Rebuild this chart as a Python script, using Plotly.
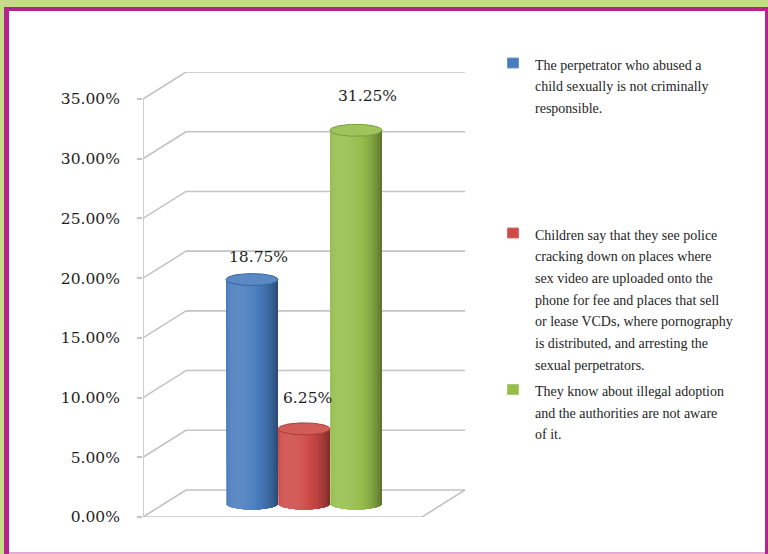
import numpy as np
import plotly.graph_objects as go

# ---------------- data ----------------
categories = [
    "The perpetrator who abused a child sexually is not criminally responsible.",
    "Children say that they see police cracking down on places where sex video are uploaded onto the phone for fee and places that sell or lease VCDs, where pornography is distributed, and arresting the sexual perpetrators.",
    "They know about illegal adoption and the authorities are not aware of it.",
]
values = [18.75, 6.25, 31.25]
value_labels = ["18.75%", "6.25%", "31.25%"]
tick_vals = [0, 5, 10, 15, 20, 25, 30, 35]
tick_text = ["0.00%", "5.00%", "10.00%", "15.00%", "20.00%", "25.00%", "30.00%", "35.00%"]
legend_lines = [
    ["The perpetrator who abused a", "child sexually is not criminally", "responsible."],
    ["Children say that they see police", "cracking down on places where",
     "sex video are uploaded onto the", "phone for fee and places that sell",
     "or lease VCDs, where pornography", "is distributed, and arresting the",
     "sexual perpetrators."],
    ["They know about illegal adoption", "and the authorities are not aware", "of it."],
]

# ---------------- style / geometry ----------------
W, H = 768, 554
ML, MR, MT, MB = 143, 303, 72, 37
PW, PH = W - ML - MR, H - MT - MB
PX_PER_CAT = 52.0
PX_PER_PCT = 11.943
X_FIRST_PX = 252.0
XMIN = 1 - (X_FIRST_PX - ML) / PX_PER_CAT
XMAX = XMIN + PW / PX_PER_CAT
YMAX = PH / PX_PER_PCT
DEPTH_X = 43 / PX_PER_CAT
DEPTH_Y = 27 / PX_PER_PCT
XFRONT_R = XMAX - DEPTH_X
R_CYL = 0.5
H_ELL = 6 / PX_PER_PCT
BASE = DEPTH_Y / 2
colors = [(72, 124, 190), (206, 74, 70), (150, 190, 76)]
LABEL_SHIFT = [(6, 23), (3, 31), (11, 34)]
GRID = "#c3c3c3"
TEXT_FONT = dict(family="DejaVu Serif", size=15.5, color="#1e1e1e")
LEG_FONT = dict(family="Liberation Serif", size=14, color="#1e1e1e")
LEG_FIRST_Y = [65, 235, 391.5]
LEG_STEP = 21.7
LEG_TEXT_X = 533
LEG_MARK_X = 513


def px2paper_x(px):
    return (px - ML) / PW


def px2paper_y(py):
    return (H - MB - py) / PH


def shade(rgb, k):
    r = np.array(rgb, float)
    if k <= 1:
        c = r * k
    else:
        c = r + (255 - r) * (k - 1)
    c = np.clip(c, 0, 255).astype(int)
    return "rgb(%d,%d,%d)" % tuple(c)


fig = go.Figure()

# cylinders: overlapping strips painted left to right
N = 40
th = np.linspace(-np.pi / 2, np.pi / 2, N + 1)
for i, v in enumerate(values):
    c = i + 1
    top = BASE + v
    for k in range(N):
        tt = th[k:]
        xs_arc = c + R_CYL * np.sin(tt)
        ys_arc = BASE - H_ELL * np.cos(tt)
        xs = np.concatenate([[xs_arc[0]], xs_arc, [xs_arc[-1]], [xs_arc[0]]])
        ys = np.concatenate([[top], ys_arc, [top], [top]])
        tm = 0.5 * (th[k] + th[k + 1])
        inten = 0.74 + 0.38 * np.cos(tm + 0.6)
        col = shade(colors[i], inten)
        fig.add_trace(go.Scatter(
            x=xs, y=ys, mode="lines", fill="toself", fillcolor=col,
            line=dict(width=0), hoverinfo="skip", showlegend=False))
    phi = np.linspace(0, 2 * np.pi, 80)
    fig.add_trace(go.Scatter(
        x=c + R_CYL * np.cos(phi), y=top + H_ELL * np.sin(phi),
        mode="lines", fill="toself", fillcolor=shade(colors[i], 1.1),
        line=dict(color=shade(colors[i], 0.82), width=1),
        hoverinfo="skip", showlegend=False))

shapes = []
# frame
shapes.append(dict(type="rect", xref="paper", yref="paper", layer="below",
                   x0=px2paper_x(4), x1=px2paper_x(W + 5), y0=px2paper_y(7), y1=px2paper_y(H + 5),
                   fillcolor="#b52390", line=dict(width=0)))
shapes.append(dict(type="rect", xref="paper", yref="paper", layer="below",
                   x0=px2paper_x(9), x1=px2paper_x(W - 3), y0=px2paper_y(11), y1=px2paper_y(H - 1.5),
                   fillcolor="white", line=dict(width=0)))
shapes.append(dict(type="rect", xref="paper", yref="paper", layer="below",
                   x0=px2paper_x(9), x1=px2paper_x(W - 3), y0=px2paper_y(H - 1.5), y1=px2paper_y(H + 5),
                   fillcolor="#e9b6da", line=dict(width=0)))
gl = dict(color=GRID, width=1.6)
for t in tick_vals:
    shapes.append(dict(type="line", xref="x", yref="y", layer="below",
                       x0=XMIN + DEPTH_X, x1=XMAX, y0=t + DEPTH_Y, y1=t + DEPTH_Y, line=gl))
    shapes.append(dict(type="line", xref="x", yref="y", layer="below",
                       x0=XMIN, x1=XMIN + DEPTH_X, y0=t, y1=t + DEPTH_Y, line=gl))
# floor front edges and front axis
shapes.append(dict(type="line", xref="x", yref="y", layer="below",
                   x0=XMIN, x1=XFRONT_R, y0=0, y1=0, line=gl))
shapes.append(dict(type="line", xref="x", yref="y", layer="below",
                   x0=XFRONT_R, x1=XMAX, y0=0, y1=DEPTH_Y, line=gl))
shapes.append(dict(type="line", xref="x", yref="y", layer="below",
                   x0=XMIN, x1=XMIN, y0=0, y1=tick_vals[-1], line=gl))

# legend markers
for j in range(3):
    yc = LEG_FIRST_Y[j] - 2
    shapes.append(dict(type="rect", xref="paper", yref="paper",
                       x0=px2paper_x(LEG_MARK_X - 5.5), x1=px2paper_x(LEG_MARK_X + 5.5),
                       y0=px2paper_y(yc + 5), y1=px2paper_y(yc - 5),
                       fillcolor=shade(colors[j], 1.0), line=dict(color=shade(colors[j], 1.2), width=1)))

annotations = []
for i, v in enumerate(values):
    annotations.append(dict(x=i + 1, y=v + BASE, xref="x", yref="y", text=value_labels[i],
                            showarrow=False, xanchor="center", yanchor="middle",
                            xshift=LABEL_SHIFT[i][0], yshift=LABEL_SHIFT[i][1], font=TEXT_FONT))
for j, lines in enumerate(legend_lines):
    for n, ln in enumerate(lines):
        annotations.append(dict(x=px2paper_x(LEG_TEXT_X), y=px2paper_y(LEG_FIRST_Y[j] + n * LEG_STEP),
                                xref="paper", yref="paper", text=ln, showarrow=False,
                                xanchor="left", yanchor="middle", font=LEG_FONT))

fig.update_layout(
    width=W, height=H, autosize=False,
    margin=dict(l=ML, r=MR, t=MT, b=MB, pad=0),
    paper_bgcolor="#c6dd88", plot_bgcolor="rgba(0,0,0,0)",
    shapes=shapes, annotations=annotations, showlegend=False,
    xaxis=dict(range=[XMIN, XMAX], visible=False, fixedrange=True),
    yaxis=dict(range=[0, YMAX], tickvals=tick_vals, ticktext=tick_text,
               showgrid=False, zeroline=False, showline=False,
               ticks="outside", ticklen=5, tickcolor=GRID, tickwidth=1.5,
               ticklabelstandoff=14, tickfont=TEXT_FONT, fixedrange=True),
)

fig.write_html("out.html")
